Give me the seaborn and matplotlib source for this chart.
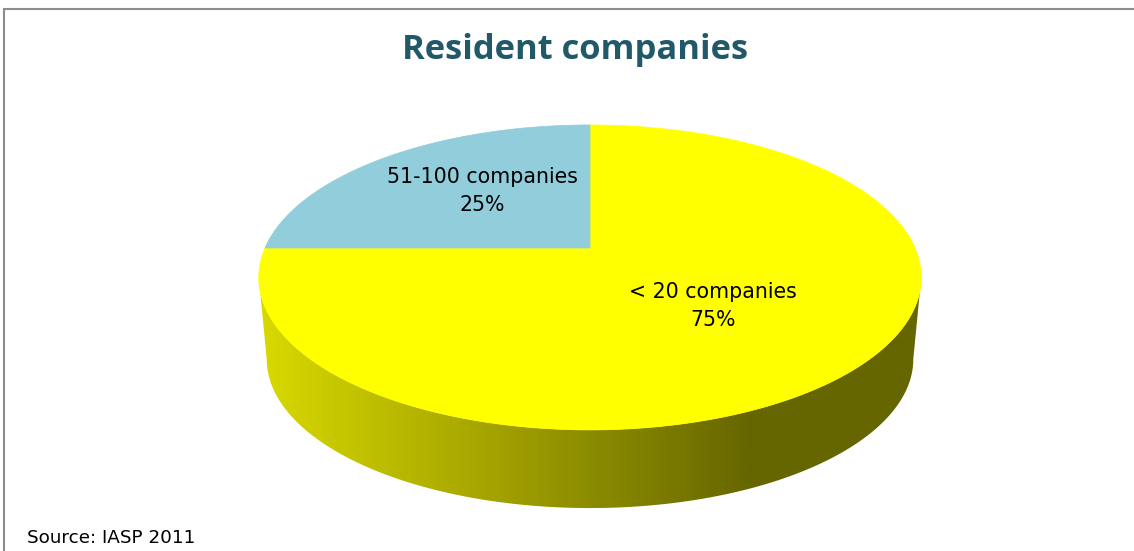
import numpy as np
import matplotlib
matplotlib.use("Agg")
import matplotlib.pyplot as plt
import seaborn as sns
from matplotlib.patches import Polygon

# ---- data ----
categories = ["< 20 companies", "51-100 companies"]
values = [75, 25]
pct_labels = ["75%", "25%"]
title = "Resident companies"
source = "Source: IASP 2011"

sns.set_theme(style="white")
plt.rcParams['font.family'] = ['DejaVu Sans']

colors = ["#FFFF00", "#92CDDC"]
label_nudge = [(-6, 0), (4, -7)]

W, H = 1134, 551
fig = plt.figure(figsize=(W / 100, H / 100), dpi=100)
ax = fig.add_axes([0, 0, 1, 1])
ax.set_xlim(0, W)
ax.set_ylim(H, 0)
ax.axis('off')

# perspective pie geometry (screen pixels)
cx, cy = 590, 248
A, B, k = 325, 146.8, 0.193
bot_scale, bot_dy = 0.976, 82.5


def proj(theta, r=1.0, s=1.0, dy=0.0):
    X = r * np.cos(theta)
    Z = r * np.sin(theta)
    w = 1 + k * Z
    return cx + s * A * X / w, cy + dy - s * B * Z / w


total = float(sum(values))
starts, ends = [], []
a = np.pi / 2
for v in values:
    starts.append(a)
    a = a - 2 * np.pi * v / total
    ends.append(a)

# visible front rim range (silhouette tangent points)
t_left = -np.pi + np.arcsin(k)
t_right = -np.arcsin(k)

# ---- side walls ----
xs_grad = np.arange(W)
shade = np.interp(xs_grad, [262, 750, W], [0.85, 0.40, 0.40])
for s, e, col in zip(starts, ends, colors):
    base = np.array(matplotlib.colors.to_rgb(col))
    for off in (0, -2 * np.pi, 2 * np.pi):
        lo = max(e + off, t_left)
        hi = min(s + off, t_right)
        if hi <= lo:
            continue
        th = np.linspace(lo, hi, 300)
        tx, ty = proj(th)
        bx, by = proj(th, s=bot_scale, dy=bot_dy)
        pts = np.concatenate([np.column_stack([tx, ty]),
                              np.column_stack([bx[::-1], by[::-1]])])
        poly = Polygon(pts, closed=True, facecolor='none', edgecolor='none')
        ax.add_patch(poly)
        img = (shade[None, :, None] * base[None, None, :])
        img = np.repeat(img, 2, axis=0)
        im = ax.imshow(img, extent=[0, W, H, 0], aspect='auto',
                       interpolation='bilinear', zorder=1)
        im.set_clip_path(poly)

ax.set_xlim(0, W)
ax.set_ylim(H, 0)

# ---- top faces ----
for s, e, col in zip(starts, ends, colors):
    th = np.linspace(s, e, 400)
    tx, ty = proj(th)
    pts = np.vstack([[cx, cy], np.column_stack([tx, ty])])
    ax.add_patch(Polygon(pts, closed=True, facecolor=col, edgecolor=col,
                         linewidth=0.5, zorder=2))

# ---- labels ----
for s, e, cat, pl, (nx, ny) in zip(starts, ends, categories, pct_labels, label_nudge):
    mid = (s + e) / 2
    lx, ly = proj(mid, 0.52)
    ax.text(lx + nx, ly + ny, f"{cat}\n{pl}", ha='center', va='center',
            fontsize=14.8, color='black', linespacing=1.5, zorder=3)

ax.text(W / 2 + 8, 50, title, ha='center', va='center', fontsize=24.8,
        fontweight='bold', color='#215968', zorder=3,
        family=['Open Sans', 'DejaVu Sans'])
ax.text(27, 543, source, ha='left', va='baseline', fontsize=13.2,
        color='black', zorder=3)

# frame lines (top and left)
ax.plot([3, W], [8.5, 8.5], color='#8c8c8c', lw=1.5, zorder=3, solid_capstyle='butt')
ax.plot([3.5, 3.5], [8, H], color='#8c8c8c', lw=1.5, zorder=3, solid_capstyle='butt')

fig.savefig("out.png", dpi=100)
